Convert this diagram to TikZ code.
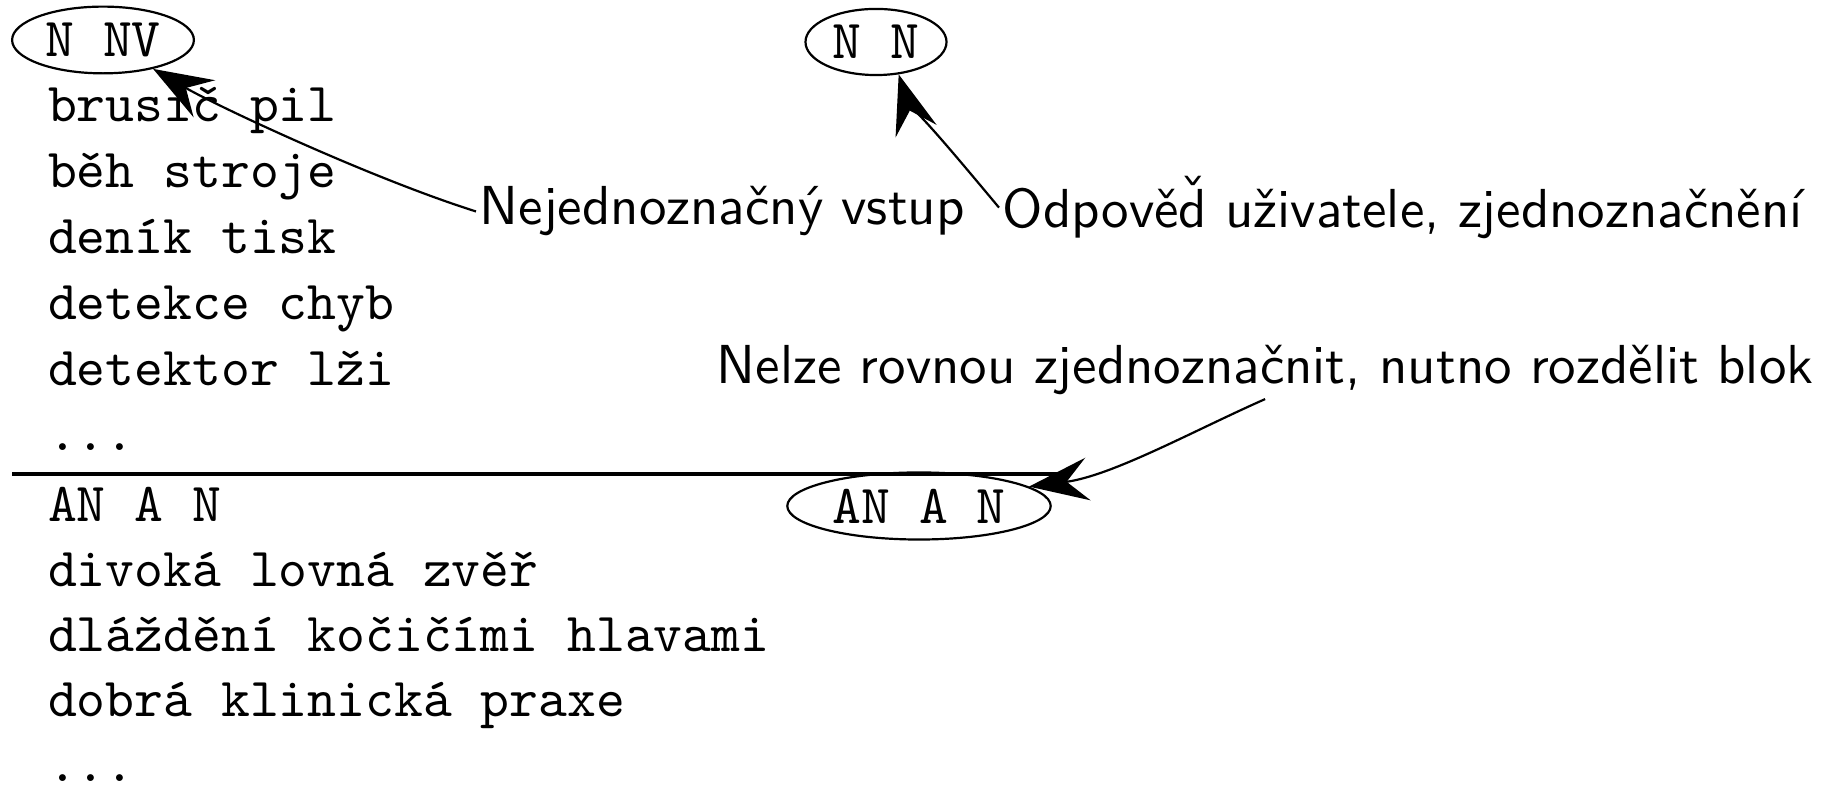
\documentclass[tikz,border=0pt]{standalone}
\usepackage{fontspec}
\usetikzlibrary{shapes.geometric,arrows.meta}
% d with a caron set on top of it
\newcommand{\dcaron}{{\accent"02C7 d}}
\begin{document}
\begin{tikzpicture}[x=0.1820pt,y=-0.1820pt,
  entry/.style={anchor=base west, inner sep=0pt, font=\ttfamily},
  pattern/.style={ellipse, draw, inner sep=1.2pt, font=\ttfamily, line width=0.4pt},
  note/.style={anchor=base west, inner sep=0.5pt, font=\sffamily},
  pointer/.style={-{Stealth[length=10.8pt,width=7.8pt,inset=3.9pt]}, line width=0.4pt},
  divider/.style={line width=0.8pt}]
\useasboundingbox (0,0) rectangle (1825,787);

% block headers (tag patterns)
\node[pattern] (nnv)  at (103,40)  {N NV};
\node[pattern] (nn)   at (876,42)  {N N};
\node[pattern] (anan) at (919,506) {AN A N};

% first block
\node[entry] (e1) at (47,122) {brusič pil};
\node[entry] (e2) at (47,188) {běh stroje};
\node[entry] (e3) at (47,254) {deník tisk};
\node[entry] (e4) at (47,320) {detekce chyb};
\node[entry] (e5) at (47,386) {detektor lži};
\node[entry] (e6) at (47,451) {...};

% separator between blocks
\coordinate (sepL) at (12,474);
\coordinate (sepR) at (1057,474);
\draw[divider] (sepL) -- (sepR);

% second block
\node[entry] (f0) at (47,522) {AN A N};
\node[entry] (f1) at (47,587) {divoká lovná zvěř};
\node[entry] (f2) at (47,652) {dláždění kočičími hlavami};
\node[entry] (f3) at (47,717) {dobrá klinická praxe};
\node[entry] (f4) at (47,782) {...};

% annotations
\node[note] (amb)   at (476,225)  {Nejednoznačný vstup};
\node[note] (reply) at (999,228)  {Odpově\dcaron{} uživatele, zjednoznačnění};
\node[note] (split) at (713,384)  {Nelze rovnou zjednoznačnit, nutno rozdělit blok};

\draw[pointer] (amb.west) .. controls (370,178) and (215,105) .. (nnv.-30);
\draw[pointer] (reply.west) .. controls (955,155) and (905,95) .. (nn.-55);
\draw[pointer] (split.south) .. controls (1195,430) and (1112,476) .. (anan.10);
\end{tikzpicture}
\end{document}
